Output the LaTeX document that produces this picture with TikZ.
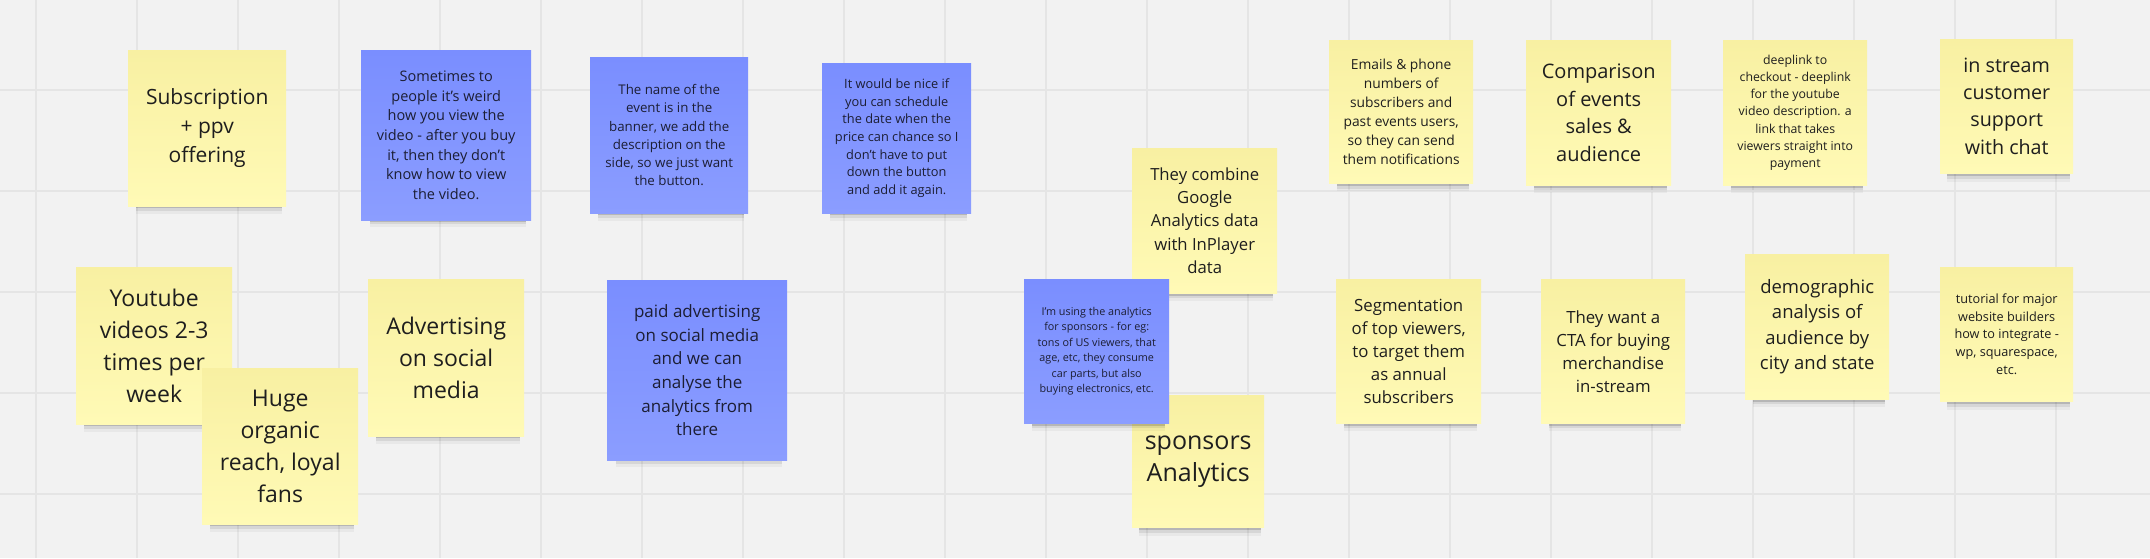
\documentclass[tikz,border=0pt]{standalone}
\usepackage{fontspec}
\setmainfont{Open Sans}
\usetikzlibrary{shadows}

\definecolor{boardbg}{RGB}{242,242,242}
\definecolor{gridline}{RGB}{229,229,229}
\definecolor{yellowtop}{RGB}{248,240,162}
\definecolor{yellowbot}{RGB}{255,250,182}
\definecolor{bluetop}{RGB}{122,142,255}
\definecolor{bluebot}{RGB}{139,157,255}
\definecolor{inkdark}{RGB}{30,30,30}
\definecolor{inkblue}{RGB}{28,30,52}

\newcommand{\notefont}[2]{\fontsize{#1}{#2}\selectfont}

\tikzset{
  notebase/.style={anchor=north west, align=center, inner sep=4pt,
    general shadow={shadow scale=0.92, shadow xshift=2pt, shadow yshift=-6pt, fill=black, opacity=0.22},
    general shadow={shadow scale=0.92, shadow xshift=2pt, shadow yshift=-9pt, fill=black, opacity=0.14},
    general shadow={shadow scale=0.92, shadow xshift=2pt, shadow yshift=-12pt, fill=black, opacity=0.08},
    general shadow={shadow scale=0.92, shadow xshift=2pt, shadow yshift=-15pt, fill=black, opacity=0.04}},
  yellownote/.style={notebase, top color=yellowtop, bottom color=yellowbot, text=inkdark},
  bluenote/.style={notebase, top color=bluetop, bottom color=bluebot, text=inkblue}
}

\begin{document}
\begin{tikzpicture}[x=1pt, y=-1pt]
  \useasboundingbox (0,0) rectangle (2150,558);
  % board with grid
  \fill[boardbg] (0,0) rectangle (2150,558);
  \foreach \gx in {0,...,20}
    \draw[gridline, line width=1.5pt] ({36+101*\gx},0) -- ({36+101*\gx},558);
  \foreach \gy in {90,191,292,393,494}
    \draw[gridline, line width=1.5pt] (0,\gy) -- (2150,\gy);

  % left group
  \node[yellownote, minimum width=158pt, minimum height=156pt, font=\notefont{21}{29}] (subs) at (128,50) {Subscription\\+ ppv\\offering};
  \node[yellownote, minimum width=156pt, minimum height=157pt, font=\notefont{23}{32}] (youtube) at (76,267) {Youtube\\videos 2-3\\times per\\week};
  \node[yellownote, minimum width=156pt, minimum height=156pt, font=\notefont{23}{32}] (reach) at (202,368) {Huge\\organic\\reach, loyal\\fans};
  \node[bluenote, minimum width=170pt, minimum height=170pt, font=\notefont{14.5}{19.7}] (weird) at (361,50) {Sometimes to\\people it’s weird\\how you view the\\video - after you buy\\it, then they don’t\\know how to view\\the video.};
  \node[yellownote, minimum width=156pt, minimum height=157pt, font=\notefont{23}{32}] (advert) at (368,279) {Advertising\\on social\\media};
  \node[bluenote, minimum width=158pt, minimum height=156pt, font=\notefont{13.3}{18.3}] (banner) at (590,57) {The name of the\\event is in the\\banner, we add the\\description on the\\side, so we just want\\the button.};
  \node[bluenote, minimum width=180pt, minimum height=180pt, font=\notefont{17}{23.7}] (paid) at (607,280) {paid advertising\\on social media\\and we can\\analyse the\\analytics from\\there};
  \node[bluenote, minimum width=149pt, minimum height=150pt, font=\notefont{12.8}{17.7}] (schedule) at (822,63) {It would be nice if\\you can schedule\\the date when the\\price can chance so I\\don’t have to put\\down the button\\and add it again.};

  % analytics group
  \node[yellownote, minimum width=145pt, minimum height=145pt, font=\notefont{16.7}{23.3}] (google) at (1132,148) {They combine\\Google\\Analytics data\\with InPlayer\\data};
  \node[yellownote, minimum width=132pt, minimum height=132pt, font=\notefont{25}{32}] (sponsors) at (1132,395) {sponsors\\Analytics};
  \node[bluenote, minimum width=145pt, minimum height=144pt, font=\notefont{10.8}{15.4}] (usingsp) at (1024,279) {I'm using the analytics\\for sponsors - for eg:\\tons of US viewers, that\\age, etc, they consume\\car parts, but also\\buying electronics, etc.};

  % right group, top row
  \node[yellownote, minimum width=144pt, minimum height=143pt, font=\notefont{13.8}{19.1}] (emails) at (1329,40) {Emails \& phone\\numbers of\\subscribers and\\past events users,\\so they can send\\them notifications};
  \node[yellownote, minimum width=145pt, minimum height=145pt, font=\notefont{20}{27.8}] (compare) at (1526,40) {Comparison\\of events\\sales \&\\audience};
  \node[yellownote, minimum width=144pt, minimum height=145pt, font=\notefont{12.3}{17.1}] (deeplink) at (1723,40) {deeplink to\\checkout - deeplink\\for the youtube\\video description. a\\link that takes\\viewers straight into\\payment};
  \node[yellownote, minimum width=133pt, minimum height=134pt, font=\notefont{19.7}{27.2}] (support) at (1940,39) {in stream\\customer\\support\\with chat};

  % right group, bottom row
  \node[yellownote, minimum width=145pt, minimum height=144pt, font=\notefont{16.8}{22.9}] (segment) at (1336,279) {Segmentation\\of top viewers,\\to target them\\as annual\\subscribers};
  \node[yellownote, minimum width=144pt, minimum height=144pt, font=\notefont{16.8}{23}] (cta) at (1541,279) {They want a\\CTA for buying\\merchandise\\in-stream};
  \node[yellownote, minimum width=144pt, minimum height=145pt, font=\notefont{18.5}{25.3}] (demog) at (1745,254) {demographic\\analysis of\\audience by\\city and state};
  \node[yellownote, minimum width=133pt, minimum height=134pt, font=\notefont{12.7}{17.8}] (tutorial) at (1940,267) {tutorial for major\\website builders\\how to integrate -\\wp, squarespace,\\etc.};
\end{tikzpicture}
\end{document}
